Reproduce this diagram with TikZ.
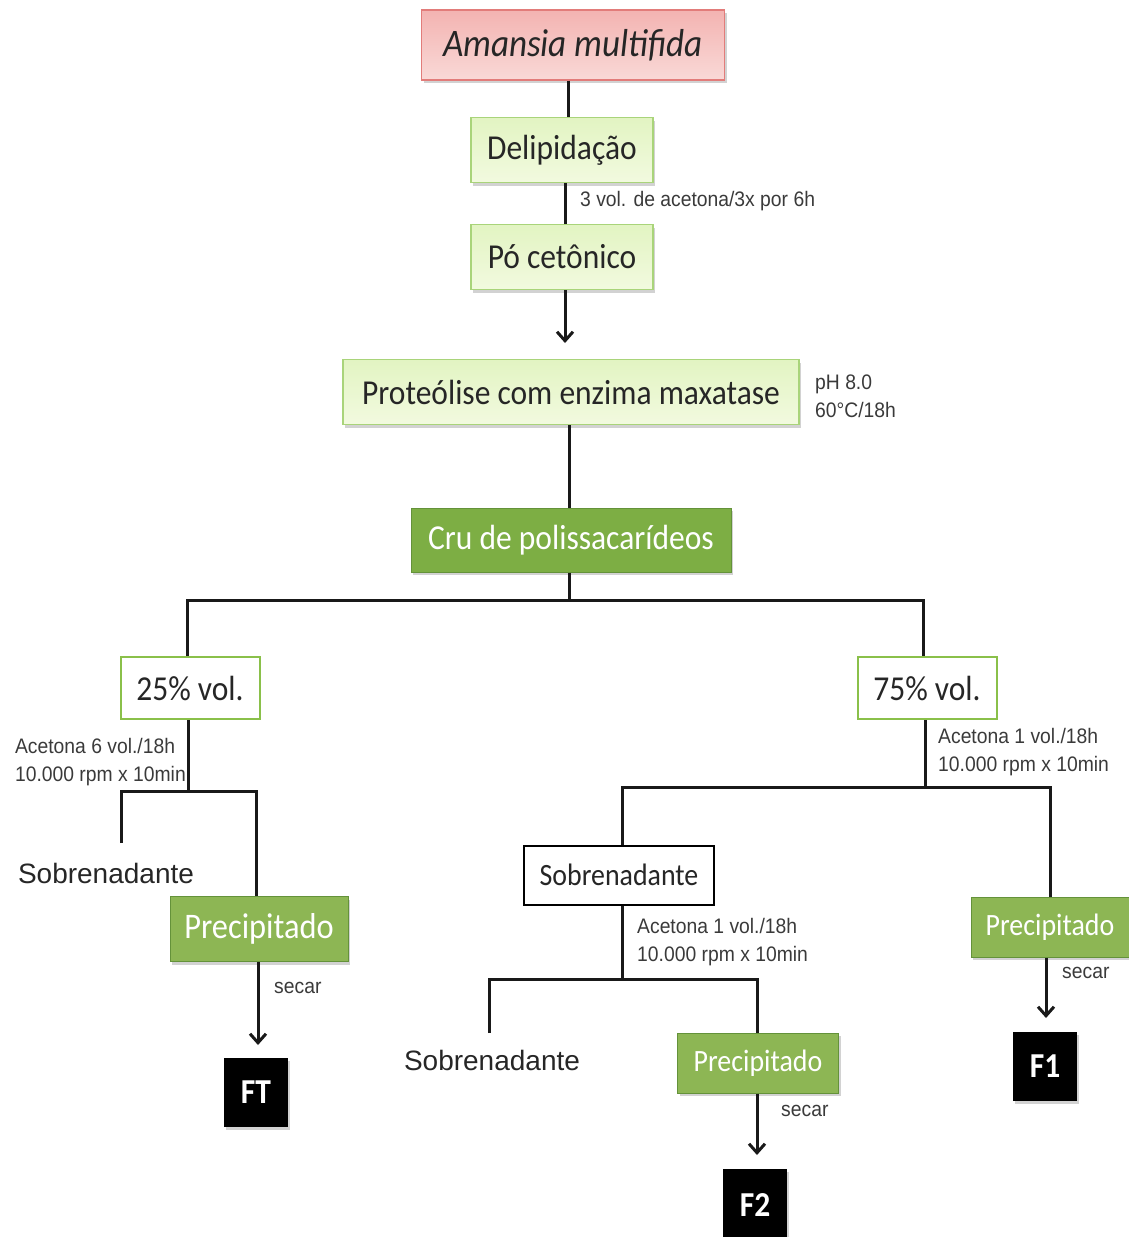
\documentclass[tikz,border=0pt]{standalone}
\usepackage{fontspec}
\setmainfont{Carlito}[FakeStretch=0.9]
\newfontfamily\narrowfont{Liberation Sans}[FakeStretch=0.92]
\newfontfamily\arialfont{Liberation Sans}
\usetikzlibrary{shadows,arrows.meta}
\definecolor{pinkTop}{HTML}{F3B3B1}
\definecolor{pinkBot}{HTML}{F9D9D7}
\definecolor{pinkEdge}{HTML}{E27C7A}
\definecolor{lgTop}{HTML}{E2F4C2}
\definecolor{lgBot}{HTML}{F2FADF}
\definecolor{lgEdge}{HTML}{A9D47A}
\definecolor{dgFill}{HTML}{7DAE44}
\definecolor{dgEdge}{HTML}{64923A}
\definecolor{pcFill}{HTML}{8DB654}
\definecolor{volEdge}{HTML}{8AC04A}
\definecolor{lblGray}{HTML}{3A3A3A}
\tikzset{
  x=1pt, y=-1pt,
  base/.style={inner sep=0pt, align=center, font=\fontsize{35}{38}\selectfont, text=black!85},
  shade/.style={drop shadow={shadow xshift=2pt, shadow yshift=-3pt, opacity=0.25, fill=black!70}},
  rootbox/.style={base, shade, draw=pinkEdge, line width=1.2pt, top color=pinkTop, bottom color=pinkBot, font=\fontsize{39}{42}\selectfont\itshape},
  stepbox/.style={base, shade, draw=lgEdge, line width=1.2pt, top color=lgTop, bottom color=lgBot},
  crubox/.style={base, shade, draw=dgEdge, line width=1pt, fill=dgFill, text=white},
  volbox/.style={base, draw=volEdge, line width=2pt, fill=white},
  sobbox/.style={base, draw=black, line width=2pt, fill=white, font=\fontsize{31}{34}\selectfont},
  precbox/.style={base, shade, draw=dgEdge, line width=1pt, fill=pcFill, text=white, font=\fontsize{31}{34}\selectfont},
  bigprec/.style={precbox, font=\fontsize{36}{38}\selectfont},
  fracbox/.style={base, shade, fill=black, text=white, font=\fontsize{35}{38}\selectfont\bfseries,
    minimum width=64pt, minimum height=69pt},
  plain/.style={inner sep=0pt, font=\arialfont\fontsize{28}{32}\selectfont, text=black!85},
  note/.style={inner sep=0pt, align=left, text=lblGray, font=\narrowfont\fontsize{21}{28}\selectfont},
  wire/.style={line width=3pt, draw=black!90},
  arr/.style={wire, -{Straight Barb[length=9pt, width=16pt, line width=3pt]}}
}
\begin{document}
\begin{tikzpicture}
\useasboundingbox (0,0) rectangle (1129,1237);

% main sequence
\node[rootbox, minimum width=303pt, minimum height=70pt] (am) at (573,45) {Amansia multifida};
\node[stepbox, minimum width=182pt, minimum height=65pt] (del) at (562,150) {Delipidação};
\node[stepbox, minimum width=182pt, minimum height=65pt] (po) at (562,257) {Pó cetônico};
\node[stepbox, minimum width=456pt, minimum height=65pt] (pro) at (571,392) {Proteólise com enzima maxatase};
\node[crubox, minimum width=320pt, minimum height=64pt] (cru) at (571,540) {Cru de polissacarídeos};

\draw[wire] (am.south -| 568,0) -- (del.north -| 568,0);
\draw[wire] (del.south -| 565,0) -- (po.north -| 565,0);
\draw[arr] (po.south -| 565,0) -- (565,343);
\draw[wire] (pro.south -| 569,0) -- (cru.north -| 569,0);

\node[note, anchor=west] (n1) at (580,201) {3 vol. de acetona/3x por 6h};
\node[note, anchor=north west] (n2) at (815,375) {pH 8.0\\60°C/18h};

% first split
\node[volbox, minimum width=139pt, minimum height=62pt] (v25) at (190,688) {25\% vol.};
\node[volbox, minimum width=139pt, minimum height=62pt] (v75) at (927,688) {75\% vol.};
\coordinate (s0) at (569,600);
\draw[wire] (cru.south -| 569,0) -- (s0);
\draw[wire] (v25.north -| 187,0) -- (187,600) -- (923,600) -- (v75.north -| 923,0);

% 25% branch
\node[note, anchor=north east] (n3) at (186,738) {Acetona 6 vol./18h\\10.000 rpm x 10min};
\coordinate (j1) at (188,791);
\draw[wire] (v25.south -| 188,0) -- (j1);
\node[plain] (sob1) at (106,873) {Sobrenadante};
\node[bigprec, minimum width=178pt, minimum height=65pt] (pr1) at (259,929) {Precipitado};
\draw[wire] (121,843) -- (121,791) -- (256,791) -- (pr1.north -| 256,0);
\node[fracbox] (ft) at (256,1092) {FT};
\draw[arr] (pr1.south -| 258,0) -- (258,1045);
\node[note, anchor=west] (s1) at (274,988) {secar};

% 75% branch
\node[note, anchor=north west] (n4) at (938,728) {Acetona 1 vol./18h\\10.000 rpm x 10min};
\coordinate (j2) at (925,787);
\draw[wire] (v75.south -| 925,0) -- (j2);
\node[sobbox, minimum width=190pt, minimum height=59pt] (sob2) at (619,875) {Sobrenadante};
\node[precbox, minimum width=158pt, minimum height=60pt] (pr3) at (1050,927) {Precipitado};
\draw[wire] (sob2.north -| 622,0) -- (622,787) -- (1050,787) -- (pr3.north -| 1050,0);
\node[fracbox] (f1) at (1045,1066) {F1};
\draw[arr] (pr3.south -| 1046,0) -- (1046,1018);
\node[note, anchor=west] (s3) at (1062,973) {secar};

% second acetone step
\node[note, anchor=north west] (n5) at (637,918) {Acetona 1 vol./18h\\10.000 rpm x 10min};
\coordinate (j3) at (622,979);
\draw[wire] (sob2.south -| 622,0) -- (j3);
\node[plain] (sob3) at (492,1060) {Sobrenadante};
\node[precbox, minimum width=161pt, minimum height=60pt] (pr2) at (758,1063) {Precipitado};
\draw[wire] (489,1033) -- (489,979) -- (757,979) -- (pr2.north -| 757,0);
\node[fracbox, minimum height=72pt] (f2) at (755,1205) {F2};
\draw[arr] (pr2.south -| 757,0) -- (757,1155);
\node[note, anchor=west] (s2) at (781,1111) {secar};
\end{tikzpicture}
\end{document}
